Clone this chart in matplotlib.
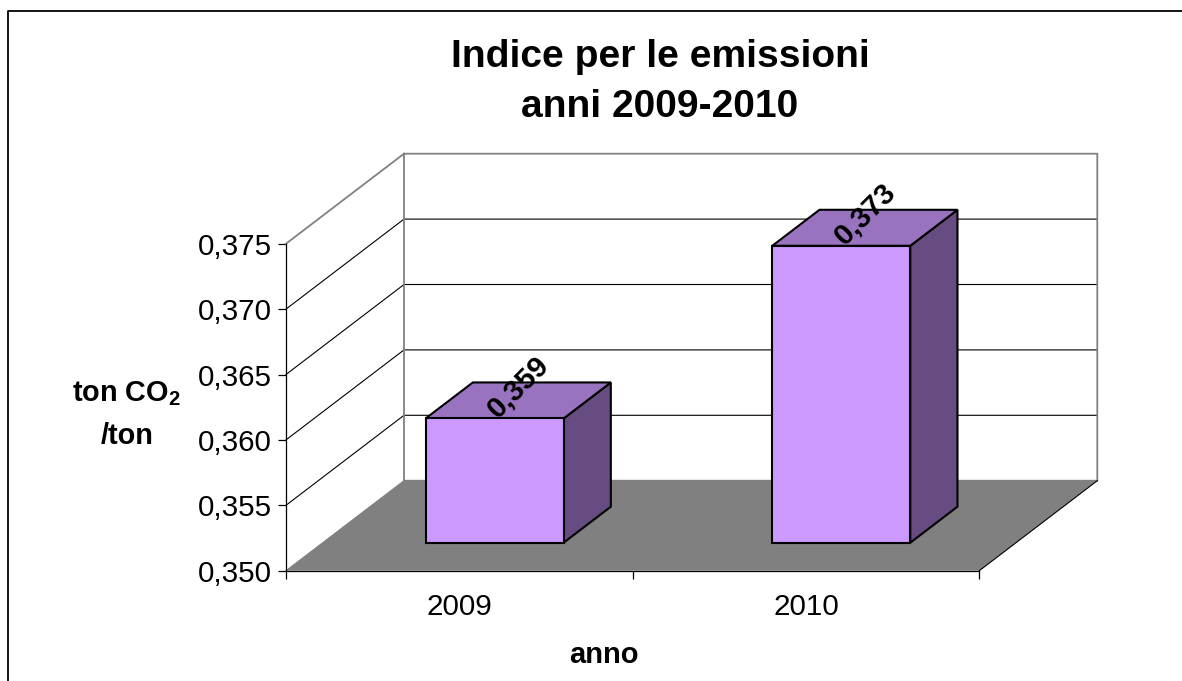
import numpy as np
import matplotlib
matplotlib.use("Agg")
import matplotlib.pyplot as plt
from matplotlib.lines import Line2D
from matplotlib.patches import Polygon

# Data
years = ["2009", "2010"]
emissions = [0.3595, 0.3727]
value_labels = ["0,359", "0,373"]
y_ticks = [0.350, 0.355, 0.360, 0.365, 0.370, 0.375]
y_tick_labels = ["0,350", "0,355", "0,360", "0,365", "0,370", "0,375"]

plt.rcParams["font.family"] = ["Liberation Sans", "DejaVu Sans"]
plt.rcParams["mathtext.fontset"] = "custom"
plt.rcParams["mathtext.rm"] = "Liberation Sans"
plt.rcParams["mathtext.bf"] = "Liberation Sans:bold"

W, H = 1182, 681
fig = plt.figure(figsize=(W / 100, H / 100), dpi=100)

# Axes are the front plane of the fake 3D box
left, right, top, bottom = 286, 979.3, 243.7, 570.7
ax = fig.add_axes([left / W, 1 - bottom / H, (right - left) / W, (bottom - top) / H])
ax.set_xlim(0, 2)
ax.set_ylim(0.350, 0.375)
ax.patch.set_alpha(0)

# Depth offset of the back wall, in data units
depth_x = 118 / ((right - left) / 2)
depth_y = 90 / ((bottom - top) / 0.025)


def proj(x, v, d):
    return (x + d * depth_x, v + d * depth_y)


x0, x1 = ax.get_xlim()
y0, y1 = ax.get_ylim()

# Floor
ax.add_patch(Polygon([proj(x0, y0, 0), proj(x1, y0, 0), proj(x1, y0, 1), proj(x0, y0, 1)],
                     closed=True, fc="#808080", ec="none", clip_on=False, zorder=1))

# Grid lines on side wall and back wall
for v in y_ticks[1:-1]:
    xs, ys = zip(proj(x0, v, 0), proj(x0, v, 1), proj(x1, v, 1))
    ax.plot(xs, ys, color="black", lw=0.8, clip_on=False, zorder=2)

# Wall outline
xs, ys = zip(proj(x0, y1, 0), proj(x0, y1, 1), proj(x1, y1, 1), proj(x1, y0, 1), proj(x0, y0, 1), proj(x0, y1, 1))
ax.plot(xs, ys, color="#808080", lw=1.3, clip_on=False, zorder=2, solid_joinstyle="miter")
# Floor edges
xs, ys = zip(proj(x0, y0, 0), proj(x0, y0, 1))
ax.plot(xs, ys, color="#808080", lw=0.8, clip_on=False, zorder=2)
xs, ys = zip(proj(x1, y0, 0), proj(x1, y0, 1))
ax.plot(xs, ys, color="black", lw=0.8, clip_on=False, zorder=2)

# Bars
bar_w = 0.398
d_front, d_back = 0.311, 0.711
centers = np.arange(len(years)) + 0.496
for c, val, lab in zip(centers, emissions, value_labels):
    a, b = c - bar_w / 2, c + bar_w / 2
    style = dict(closed=True, ec="black", lw=1.5, clip_on=False, zorder=3, joinstyle="miter")
    ax.add_patch(Polygon([proj(b, y0, d_front), proj(b, y0, d_back), proj(b, val, d_back), proj(b, val, d_front)],
                         fc="#664C80", **style))
    ax.add_patch(Polygon([proj(a, val, d_front), proj(b, val, d_front), proj(b, val, d_back), proj(a, val, d_back)],
                         fc="#9973BF", **style))
    ax.add_patch(Polygon([proj(a, y0, d_front), proj(b, y0, d_front), proj(b, val, d_front), proj(a, val, d_front)],
                         fc="#CC99FF", **style))
    ax.annotate(lab, xy=proj(c, val, (d_front + d_back) / 2), xytext=(0, 10), textcoords="offset points",
                rotation=45, rotation_mode="anchor", ha="center", va="center",
                fontsize=21.3, fontweight="bold", color="black", zorder=5, annotation_clip=False)

# Axes, ticks and labels
for s in ["top", "right"]:
    ax.spines[s].set_visible(False)
for s in ["left", "bottom"]:
    ax.spines[s].set_linewidth(0.9)
    ax.spines[s].set_zorder(2.5)
ax.set_yticks(y_ticks)
ax.set_yticklabels(y_tick_labels, fontsize=21.3)
ax.tick_params(axis="y", length=6, width=0.9, pad=4)
ax.set_xticks([0, 1, 2])
ax.set_xticklabels([])
ax.tick_params(axis="x", which="major", length=6, width=0.9)
ax.set_xticks(np.arange(len(years)) + 0.5, minor=True)
ax.set_xticklabels(years, minor=True, fontsize=21.3)
ax.tick_params(axis="x", which="minor", length=0, pad=16)

# Title and axis titles
fig.text(660 / W, 1 - 82 / H, "Indice per le emissioni\nanni 2009-2010", ha="center", va="center",
         fontsize=28.1, fontweight="bold", linespacing=1.5)
fig.text(604 / W, 1 - 655 / H, "anno", ha="center", va="center", fontsize=21, fontweight="bold")
fig.text(127 / W, 1 - 394 / H, r"ton CO$_{\mathbf{2}}$", ha="center", va="center", fontsize=20.8, fontweight="bold")
fig.text(127 / W, 1 - 436 / H, "/ton", ha="center", va="center", fontsize=20.8, fontweight="bold")

# Chart frame, left and top edges
fig.add_artist(Line2D([7.5 / W, 7.5 / W, 1], [0, 1 - 11 / H, 1 - 11 / H], color="black", lw=1.3, transform=fig.transFigure))

fig.savefig("out.png", dpi=100, facecolor="white")
